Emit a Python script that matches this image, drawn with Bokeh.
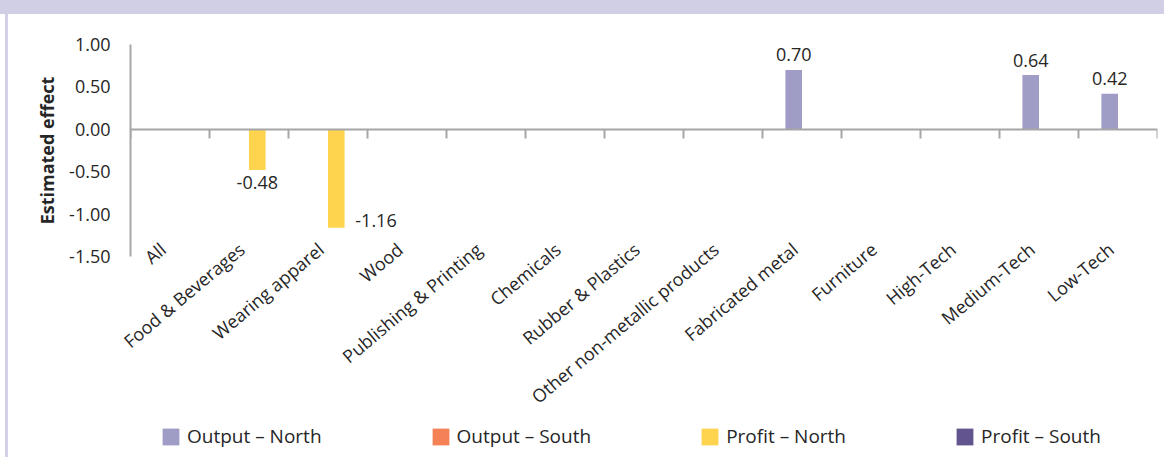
import numpy as np
from bokeh.plotting import figure
from bokeh.layouts import column
from bokeh.models import (Range1d, LinearAxis, FixedTicker, PrintfTickFormatter,
                          Legend, LegendItem, ColumnDataSource, Title)
from bokeh.core.properties import value
from bokeh.embed import file_html
from bokeh.resources import INLINE

nan = float("nan")

# ---------------- data ----------------
categories = ["All", "Food & Beverages", "Wearing apparel", "Wood",
              "Publishing & Printing", "Chemicals", "Rubber & Plastics",
              "Other non-metallic products", "Fabricated metal", "Furniture",
              "High-Tech", "Medium-Tech", "Low-Tech"]
series_names = ["Output – North", "Output – South", "Profit – North", "Profit – South"]
output_north = [nan, nan, nan, nan, nan, nan, nan, nan, 0.70, nan, nan, 0.64, 0.42]
output_south = [nan, nan, nan, nan, nan, nan, nan, nan, nan, nan, nan, nan, nan]
profit_north = [nan, -0.48, -1.16, nan, nan, nan, nan, nan, nan, nan, nan, nan, nan]
profit_south = [nan, nan, nan, nan, nan, nan, nan, nan, nan, nan, nan, nan, nan]
y_ticks = [-1.5, -1.0, -0.5, 0.0, 0.5, 1.0]
y_title = "Estimated effect"

# ---------------- style ----------------
FONT = "Open Sans"
TXT = "#262626"
AXIS = "#a6a6a6"
colors = ["#9f9dc5", "#f58257", "#fed44f", "#62548e"]
offsets = [-0.105, -0.315, 0.105, 0.315]   # slot of each series inside a category
BAR_W = 0.21
LABEL_SHIFT = -0.09                        # category label anchor relative to category centre
label_side_override = {"Wearing apparel": "right"}
LEFT_LINE = "linear-gradient(#d3d1e8, #d3d1e8) 5px 0 / 3px 100% no-repeat"

n = len(categories)
centers = np.arange(n) + 0.5

p = figure(width=1164, height=421, output_backend="svg", toolbar_location=None,
           x_range=Range1d(0, n), y_range=Range1d(min(y_ticks), max(y_ticks)),
           x_axis_type=None, y_axis_type=None,
           min_border_left=130, min_border_right=7, min_border_top=44, min_border_bottom=165)
p.outline_line_color = None
p.border_fill_color = None
p.background_fill_color = "white"
p.styles = {
    "background": ("linear-gradient(#d0cfe6, #d0cfe6) 0 0 / 100% 14px no-repeat, "
                   + LEFT_LINE + ", #ffffff"),
}

all_series = [output_north, output_south, profit_north, profit_south]
lab = {"above": dict(x=[], y=[], t=[]), "below": dict(x=[], y=[], t=[]), "right": dict(x=[], y=[], t=[])}
for vals, col, off in zip(all_series, colors, offsets):
    xs = centers + off
    src = ColumnDataSource(dict(x=xs, top=np.array(vals, dtype=float)))
    p.vbar(x="x", top="top", bottom=0, width=BAR_W, source=src,
           fill_color=col, line_color=None)
    for i, v in enumerate(vals):
        if np.isnan(v):
            continue
        side = label_side_override.get(categories[i], "above" if v > 0 else "below")
        lab[side]["x"].append(xs[i])
        lab[side]["y"].append(v)
        lab[side]["t"].append("%.2f" % v)

common = dict(text_font=value(FONT), text_font_size="18px", text_color=TXT)
p.text(x="x", y="y", text="t", source=ColumnDataSource(lab["above"]),
       text_align="center", text_baseline="alphabetic", y_offset=-15, **common)
p.text(x="x", y="y", text="t", source=ColumnDataSource(lab["below"]),
       text_align="center", text_baseline="alphabetic", y_offset=12, **common)
p.text(x="x", y="y", text="t", source=ColumnDataSource(lab["right"]),
       text_align="left", text_baseline="alphabetic", x_offset=19, y_offset=-7, **common)

# y axis
y_axis = LinearAxis(ticker=FixedTicker(ticks=y_ticks),
                    formatter=PrintfTickFormatter(format="%.2f"),
                    axis_line_color=AXIS, axis_line_width=2,
                    major_tick_line_color=None, minor_tick_line_color=None,
                    major_tick_out=0, major_tick_in=0, major_label_standoff=20,
                    major_label_text_font=FONT, major_label_text_font_size="18px",
                    major_label_text_color=TXT)
p.add_layout(y_axis, "left")
p.add_layout(Title(text=y_title, align="center", offset=16, standoff=15,
                   text_font=FONT, text_font_size="18px", text_font_style="bold",
                   text_color=TXT), "left")

# category labels (bottom)
label_ticks = [float(c + LABEL_SHIFT) for c in centers]
cat_axis = LinearAxis(ticker=FixedTicker(ticks=label_ticks),
                      major_label_overrides={t: name for t, name in zip(label_ticks, categories)},
                      axis_line_color=None, major_tick_line_color=None, minor_tick_line_color=None,
                      major_tick_out=0, major_tick_in=0, major_label_standoff=-10,
                      major_label_orientation=np.deg2rad(40),
                      major_label_text_font=FONT, major_label_text_font_size="18px",
                      major_label_text_color=TXT)
p.add_layout(cat_axis, "below")

# zero line with category boundary ticks
zero_axis = LinearAxis(fixed_location=0, ticker=FixedTicker(ticks=list(range(n + 1))),
                       axis_line_color=AXIS, axis_line_width=2,
                       major_tick_line_color=AXIS, major_tick_line_width=2,
                       major_tick_in=0, major_tick_out=9, minor_tick_line_color=None,
                       major_label_text_color=None)
p.add_layout(zero_axis, "below")

# ---------------- legend strip ----------------
pl = figure(width=1164, height=36, output_backend="svg", toolbar_location=None,
            x_range=Range1d(0, 1), y_range=Range1d(0, 1),
            x_axis_type=None, y_axis_type=None, min_border=0)
pl.outline_line_color = None
pl.border_fill_color = None
pl.background_fill_color = None
pl.grid.visible = False
pl.styles = {"background": LEFT_LINE + ", #ffffff"}
leg_renderers = [pl.vbar(x=[nan], top=[nan], width=0.1, fill_color=c, line_color=None)
                 for c in colors]
legend = Legend(items=[LegendItem(label=nm, renderers=[r]) for nm, r in zip(series_names, leg_renderers)],
                orientation="horizontal", location=(30, 8),
                glyph_width=21, glyph_height=21, label_standoff=6, spacing=108,
                padding=0, margin=0, border_line_color=None, background_fill_color=None,
                label_text_font=FONT, label_text_font_size="19px", label_text_color=TXT)
pl.add_layout(legend, "center")

layout = column(p, pl, spacing=0)
open("out.html", "w").write(file_html(layout, INLINE))
